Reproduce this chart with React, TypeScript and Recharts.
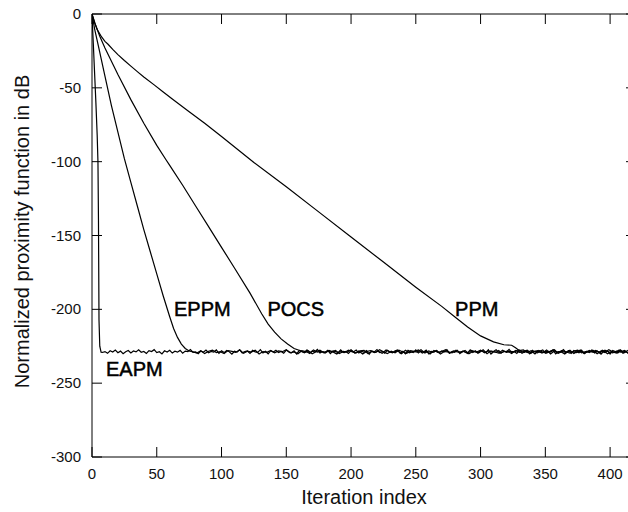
import React from "react";
import {
    LineChart,
    Line,
    XAxis,
    YAxis,
    ReferenceDot,
} from "recharts";

const FONT = "'Liberation Sans', Arial, Helvetica, sans-serif";

// tick values
const xTicks = [0, 50, 100, 150, 200, 250, 300, 350, 400];
const yTicks = [-300, -250, -200, -150, -100, -50, 0];

// descent part of each curve: [iteration, dB]
const eapmHead = [
    [0, 0], [1, -20], [2, -40], [3, -60], [4, -82], [4.6, -100],
    [5, -140], [5.4, -207], [6, -225], [7, -229],
];
const eppmHead = [
    [0, 0], [2, -10], [5, -22], [10, -42], [15, -62], [20, -80], [25, -98],
    [30, -114], [35, -130], [40, -146], [45, -161], [50, -176], [55, -191],
    [60, -205], [63, -213], [66, -219], [69, -223.5], [72, -226.5], [75, -228.2],
];
const pocsHead = [
    [0, 0], [3, -8], [6, -15], [10, -23], [20, -41], [30, -58], [40, -74],
    [50, -89], [57, -98.5], [60, -102.5], [70, -116], [80, -130], [90, -144],
    [100, -158], [110, -172], [122, -189], [131, -203], [136, -210],
    [141, -215.5], [146, -220], [151, -223.5], [156, -226.5], [161, -228],
];
const ppmHead = [
    [0, 0], [2, -6], [4, -10.5], [7, -15], [10, -18.5], [12.4, -20.5],
    [16, -24], [20, -27.5], [25, -31.5], [30, -35.3], [35, -39], [40, -42.6],
    [48, -48], [55, -52.8], [62, -57.5], [74, -65.5], [87, -74], [100, -83],
    [125, -100.5], [150, -117], [175, -134], [200, -151], [225, -168],
    [250, -185], [270, -198], [280, -205], [290, -212], [300, -218],
    [310, -222], [318, -224], [324, -224.3], [327, -226], [330, -228],
];

// noise floor after convergence (one value per step)
const eapmFloorStart = 8;
const eapmFloorStep = 2;
const eapmFloor = [
    -229.2, -228.6, -229.8, -228.1, -228.9, -227.6, -229.4, -228.3, -230.1, -228.7,
    -227.9, -229.5, -228.2, -228.8, -227.4, -229.1, -228.5, -229.9, -228.0, -228.6,
    -227.3, -229.3, -228.7, -230.2, -228.1, -228.9, -227.7, -229.6, -228.4, -229.0,
    -227.8, -229.7, -228.3, -228.6, -227.2, -229.2, -228.8, -230.0, -228.2, -229.1,
    -227.6, -229.4, -228.5, -228.9, -227.5, -229.8, -228.1, -229.3, -227.9, -228.7,
    -230.3, -228.4, -229.0, -227.4, -229.5, -228.6, -228.2, -229.9, -227.8, -228.8,
    -229.2, -227.3, -229.6, -228.4, -230.1, -228.0, -228.9, -227.7, -229.3, -228.5,
    -229.7, -227.6, -228.8, -229.4, -228.1, -230.2, -227.9, -228.6, -229.1, -227.5,
    -229.8, -228.3, -228.9, -227.2, -229.5, -228.7, -229.0, -227.8, -230.0, -228.2,
    -228.6, -229.4, -227.4, -229.2, -228.5, -229.9, -228.0, -228.7, -227.6, -229.6,
    -228.4, -229.1, -227.9, -230.4, -228.2, -228.8, -227.3, -229.3, -228.6, -229.7,
    -227.7, -228.9, -229.5, -228.1, -227.5, -229.8, -228.4, -230.1, -227.8, -228.7,
    -229.2, -227.4, -229.6, -228.3, -228.9, -227.6, -230.2, -228.5, -229.0, -227.9,
    -229.4, -228.2, -228.8, -227.3, -229.7, -228.6, -229.1, -227.7, -230.0, -228.4,
    -228.9, -229.5, -227.5, -229.2, -228.1, -229.8, -227.8, -228.6, -229.3, -227.4,
    -230.3, -228.7, -229.0, -227.9, -229.6, -228.3, -228.8, -227.2, -229.4, -228.5,
    -229.9, -227.6, -228.7, -229.1, -228.0, -230.1, -227.7, -228.9, -229.5, -228.2,
    -227.5, -229.7, -228.4, -229.0, -227.8, -230.2, -228.6, -228.8, -227.3, -229.3,
    -228.1, -229.8, -227.9, -228.7, -229.4, -227.6, -230.0, -228.3, -229.2, -227.4,
    -229.6, -228.5, -228.9, -227.7, -229.1, -228.2, -230.3, -227.8, -228.6, -229.5,
    -227.5, -229.0, -228.4, -229.7,
];
const eppmFloorStart = 78;
const eppmFloorStep = 3;
const eppmFloor = [
    -228.8, -229.6, -228.1, -230.0, -228.4, -227.6, -229.3, -228.7, -229.9, -227.9,
    -228.5, -229.2, -227.4, -229.8, -228.3, -228.9, -227.7, -230.2, -228.6, -229.1,
    -227.8, -229.5, -228.2, -228.7, -227.3, -229.4, -228.8, -230.1, -228.0, -228.6,
    -229.7, -227.5, -229.0, -228.4, -229.6, -227.9, -228.8, -230.3, -228.2, -229.3,
    -227.6, -228.9, -229.5, -228.1, -227.8, -229.9, -228.5, -229.2, -227.4, -228.7,
    -230.0, -228.3, -229.4, -227.7, -228.9, -229.8, -228.0, -228.6, -227.5, -229.6,
    -228.4, -230.2, -227.9, -229.1, -228.6, -227.3, -229.7, -228.2, -228.8, -229.3,
    -227.8, -230.1, -228.5, -228.9, -227.6, -229.5, -228.1, -229.0, -227.4, -229.8,
    -228.7, -228.3, -230.0, -227.9, -229.2, -228.6, -227.7, -229.6, -228.4, -228.8,
    -229.4, -227.5, -230.2, -228.2, -229.1, -227.8, -228.9, -229.7, -228.3, -227.6,
    -229.5, -228.7, -229.0, -227.9, -230.1, -228.4, -229.3, -227.3, -228.8, -229.6,
    -228.0, -229.2, -227.7,
];
const pocsFloorStart = 164;
const pocsFloorStep = 3;
const pocsFloor = [
    -229.4, -228.0, -230.1, -228.7, -227.6, -229.5, -228.3, -229.0, -227.8, -229.9,
    -228.5, -228.9, -227.4, -229.7, -228.2, -230.2, -228.6, -227.9, -229.3, -228.4,
    -229.8, -227.5, -228.8, -229.1, -228.0, -230.0, -227.7, -229.4, -228.5, -228.9,
    -227.3, -229.6, -228.2, -229.2, -227.9, -230.3, -228.6, -228.8, -229.5, -227.6,
    -229.0, -228.3, -229.9, -227.8, -228.7, -229.3, -227.4, -230.1, -228.1, -228.9,
    -229.7, -227.7, -229.2, -228.5, -228.8, -227.5, -229.8, -228.2, -230.0, -228.6,
    -227.9, -229.4, -228.4, -229.0, -227.3, -229.6, -228.7, -230.2, -228.0, -228.9,
    -229.3, -227.6, -229.9, -228.3, -228.8, -227.8, -229.5, -228.1, -230.1, -228.6,
    -229.1, -227.5, -229.7, -228.4,
];
const ppmFloorStart = 333;
const ppmFloorStep = 3;
const ppmFloor = [
    -227.5, -229.3, -228.0, -230.2, -227.8, -228.9, -229.6, -228.2, -227.4, -229.8,
    -228.6, -229.1, -227.7, -230.0, -228.4, -228.8, -229.5, -227.9, -229.2, -228.1,
    -230.3, -227.6, -228.7, -229.4, -228.3, -229.0, -227.8, -229.7,
];

// curve name labels, anchored at [iteration, dB] (left edge, baseline)
const seriesLabels = [
    { name: "EAPM", x: 10.8, y: -245 },
    { name: "EPPM", x: 63.3, y: -204.5 },
    { name: "POCS", x: 135.4, y: -204.5 },
    { name: "PPM", x: 280.3, y: -204.5 },
];

const toPoints = (
    head: number[][],
    floor: number[],
    start: number,
    step: number
) => [
    ...head.map(([x, y]) => ({ x, y })),
    ...floor.map((y, i) => ({ x: start + i * step, y })),
];

const eapmData = toPoints(eapmHead, eapmFloor, eapmFloorStart, eapmFloorStep);
const eppmData = toPoints(eppmHead, eppmFloor, eppmFloorStart, eppmFloorStep);
const pocsData = toPoints(pocsHead, pocsFloor, pocsFloorStart, pocsFloorStep);
const ppmData = toPoints(ppmHead, ppmFloor, ppmFloorStart, ppmFloorStep);

const TICK = 10;

const BottomTick = (props: any) => {
    const { x, y, payload } = props;
    return (
        <g>
            <line x1={x} y1={y} x2={x} y2={y - TICK} stroke="#000" />
            <text
                x={x}
                y={y + 22}
                textAnchor="middle"
                fontSize={15}
                fontFamily={FONT}
                fill="#111"
            >
                {payload.value}
            </text>
        </g>
    );
};

const TopTick = (props: any) => {
    const { x, y } = props;
    return <line x1={x} y1={y} x2={x} y2={y + TICK} stroke="#000" />;
};

const LeftTick = (props: any) => {
    const { x, y, payload } = props;
    return (
        <g>
            <line x1={x} y1={y} x2={x + TICK} y2={y} stroke="#000" />
            <text
                x={x - 11}
                y={y + 5}
                textAnchor="end"
                fontSize={15}
                fontFamily={FONT}
                fill="#111"
            >
                {payload.value}
            </text>
        </g>
    );
};

const RightTick = (props: any) => {
    const { x, y } = props;
    return <line x1={x} y1={y} x2={x - TICK} y2={y} stroke="#000" />;
};

const XTitle = (props: any) => {
    const vb = props.viewBox;
    return (
        <text
            x={vb.x + vb.width / 2}
            y={vb.y + 47}
            textAnchor="middle"
            fontSize={20}
            fontFamily={FONT}
            fill="#111"
        >
            Iteration index
        </text>
    );
};

const YTitle = (props: any) => {
    const vb = props.viewBox;
    const cx = 29;
    const cy = vb.y + vb.height / 2 - 4;
    return (
        <text
            x={cx}
            y={cy}
            transform={`rotate(-90 ${cx} ${cy})`}
            textAnchor="middle"
            fontSize={20}
            fontFamily={FONT}
            fill="#111"
        >
            Normalized proximity function in dB
        </text>
    );
};

const SeriesLabel = (name: string) => (props: any) => (
    <text
        x={props.cx}
        y={props.cy}
        fontSize={20}
        fontFamily={FONT}
        fill="#000"
        stroke="#000"
        strokeWidth={0.5}
    >
        {name}
    </text>
);

const App = () => {
    return (
        <div
            style={{
                position: "absolute",
                left: 0,
                top: 0,
                width: 628,
                height: 512,
                overflow: "hidden",
                background: "#fff",
            }}
        >
            <LineChart
                width={640}
                height={512}
                margin={{ top: 0, right: 0, bottom: 0, left: 0 }}
            >
                <XAxis
                    xAxisId="b"
                    type="number"
                    dataKey="x"
                    domain={[0, 420]}
                    ticks={xTicks}
                    height={55}
                    tickSize={0}
                    tickMargin={0}
                    tick={<BottomTick />}
                    axisLine={{ stroke: "#000" }}
                    tickLine={false}
                    interval={0}
                    allowDataOverflow
                    label={{ content: <XTitle /> }}
                />
                <XAxis
                    xAxisId="t"
                    orientation="top"
                    type="number"
                    dataKey="x"
                    domain={[0, 420]}
                    ticks={xTicks}
                    height={14}
                    tickSize={0}
                    tickMargin={0}
                    tick={<TopTick />}
                    axisLine={{ stroke: "#000" }}
                    tickLine={false}
                    interval={0}
                    allowDataOverflow
                />
                <YAxis
                    yAxisId="l"
                    type="number"
                    domain={[-300, 0]}
                    ticks={yTicks}
                    width={92}
                    tickSize={0}
                    tickMargin={0}
                    tick={<LeftTick />}
                    axisLine={{ stroke: "#000" }}
                    tickLine={false}
                    interval={0}
                    allowDataOverflow
                    label={{ content: <YTitle /> }}
                />
                <YAxis
                    yAxisId="r"
                    orientation="right"
                    type="number"
                    domain={[-300, 0]}
                    ticks={yTicks}
                    width={4}
                    tickSize={0}
                    tickMargin={0}
                    tick={<RightTick />}
                    axisLine={{ stroke: "#000" }}
                    tickLine={false}
                    interval={0}
                    allowDataOverflow
                />
                <Line
                    xAxisId="b"
                    yAxisId="l"
                    data={ppmData}
                    dataKey="y"
                    type="linear"
                    stroke="#000"
                    strokeWidth={1.2}
                    dot={false}
                    activeDot={false}
                    isAnimationActive={false}
                />
                <Line
                    xAxisId="b"
                    yAxisId="l"
                    data={pocsData}
                    dataKey="y"
                    type="linear"
                    stroke="#000"
                    strokeWidth={1.2}
                    dot={false}
                    activeDot={false}
                    isAnimationActive={false}
                />
                <Line
                    xAxisId="b"
                    yAxisId="l"
                    data={eppmData}
                    dataKey="y"
                    type="linear"
                    stroke="#000"
                    strokeWidth={1.2}
                    dot={false}
                    activeDot={false}
                    isAnimationActive={false}
                />
                <Line
                    xAxisId="b"
                    yAxisId="l"
                    data={eapmData}
                    dataKey="y"
                    type="linear"
                    stroke="#000"
                    strokeWidth={1.2}
                    dot={false}
                    activeDot={false}
                    isAnimationActive={false}
                />
                {seriesLabels.map((s) => (
                    <ReferenceDot
                        key={s.name}
                        xAxisId="b"
                        yAxisId="l"
                        x={s.x}
                        y={s.y}
                        r={0}
                        shape={SeriesLabel(s.name)}
                    />
                ))}
            </LineChart>
        </div>
    );
};

export default App;
